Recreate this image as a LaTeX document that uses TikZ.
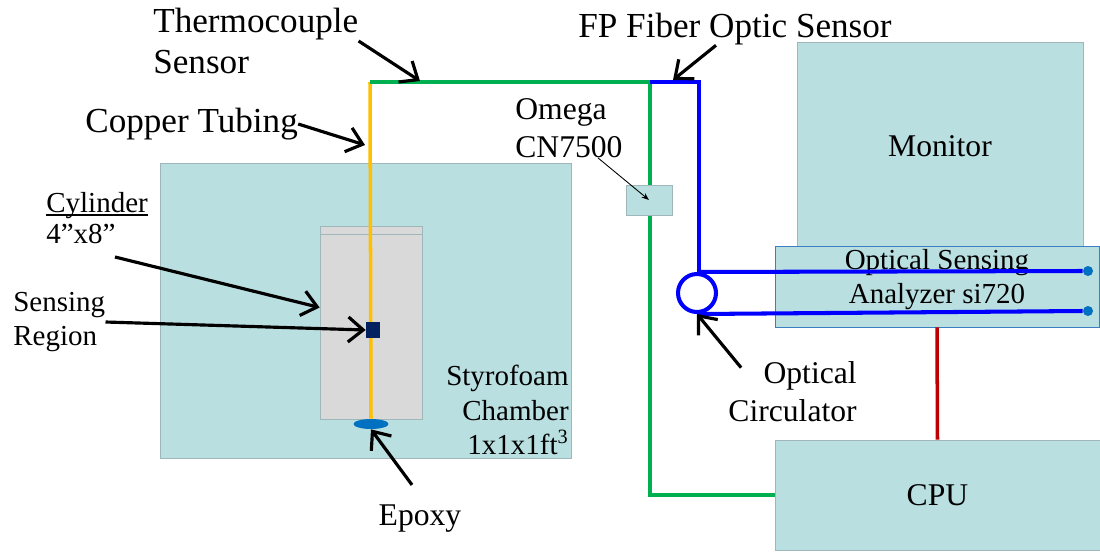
\documentclass[tikz,border=0pt]{standalone}
\usepackage{fontspec}
\setmainfont{LiberationSerif}[Extension=.ttf, UprightFont=*-Regular, BoldFont=*-Bold, ItalicFont=*-Italic, BoldItalicFont=*-BoldItalic]
\usetikzlibrary{arrows.meta, positioning, shapes.geometric, calc}
\definecolor{foam}{HTML}{B9DFE1}
\definecolor{foamedge}{HTML}{9FB6BA}
\definecolor{cylfill}{HTML}{D9D9D9}
\definecolor{tcgreen}{HTML}{00B050}
\definecolor{tubeorange}{HTML}{FFC000}
\definecolor{fiberblue}{HTML}{0000FF}
\definecolor{wirered}{HTML}{C00000}
\definecolor{sensnavy}{HTML}{002060}
\definecolor{epoxyblue}{HTML}{0070C0}
\definecolor{edgeblue}{HTML}{3C7FC0}

\begin{document}
\begin{tikzpicture}[
        x=0.02cm, y=-0.02cm,
        every node/.style={inner sep=0pt},
        bigtext/.style={font=\rmfamily\fontsize{20}{23.5}\selectfont},
        midtext/.style={font=\rmfamily\fontsize{18}{21.5}\selectfont},
        smalltext/.style={font=\rmfamily\fontsize{16.5}{19.5}\selectfont},
        box/.style={draw=foamedge, fill=foam, midtext, align=center},
        tube/.style={line width=2pt, tubeorange},
        tcwire/.style={line width=2pt, tcgreen},
        fiber/.style={line width=2.3pt, fiberblue},
        wire/.style={line width=2pt, wirered},
        pointer/.style={-{Straight Barb[length=3mm, width=5mm]}, line width=1.8pt, black},
        thinpointer/.style={-{Stealth[length=1.5mm]}, line width=0.5pt, black}
    ]
        \useasboundingbox (0,0) rectangle (1100,552);

        % chamber and cylinder
        \node[box, minimum width=8.22cm, minimum height=5.9cm] (chamber) at (365.5,310.5) {};
        \node[draw=foamedge, fill=cylfill, minimum width=2.04cm, minimum height=3.86cm] (cylinder) at (371,322.5) {};
        \draw[foamedge] (cylinder.north west) ++(0,9) coordinate (capline) -- (capline -| cylinder.east);
        \node[ellipse, fill=epoxyblue, minimum width=0.7cm, minimum height=0.2cm] (epoxy) at (371,424) {};
        \coordinate (tctop) at (370,82);
        \draw[tube] (tctop) -- (epoxy.north);
        \node[fill=sensnavy, minimum width=0.28cm, minimum height=0.32cm] (sensor) at (373,330) {};

        % thermocouple wire to the CPU
        \coordinate (tcbend) at (650,82);
        \coordinate (fobend) at (699,82);
        \node[box, minimum width=6.5cm, minimum height=2.2cm] (cpu) at (937.5,495) {CPU};
        \draw[tcwire] (tctop) -- (tcbend) |- (cpu.west);
        \node[box, minimum width=0.92cm, minimum height=0.6cm] (omega) at (649,200) {};

        % monitor and analyzer
        \node[box, minimum width=5.72cm, minimum height=4.16cm] (monitor) at (940,146) {Monitor};
        \node[box, draw=edgeblue, minimum width=6.48cm, minimum height=1.62cm] (analyzer) at (937,286.5) {};
        \node[smalltext, align=center] (anlabel) at ([yshift=0.14cm]analyzer.center) {Optical Sensing\\Analyzer si720};
        \draw[wire] (analyzer.south) -- (cpu.north);

        % circulator and fibers
        \node[circle, draw=fiberblue, line width=2.3pt, minimum size=0.76cm] (circ) at (697,293) {};
        \node[circle, fill=epoxyblue, minimum size=0.2cm] (dottop) at (1088,271) {};
        \node[circle, fill=epoxyblue, minimum size=0.2cm] (dotbot) at (1088,311) {};
        \draw[fiber] (tcbend) -- (fobend) -- (fobend |- circ.north);
        \draw[fiber] (circ.north) -- (dottop.west);
        \draw[fiber] (circ.south) -- (dotbot.west);

        % labels
        \node[bigtext, align=left, anchor=west] (tclabel) at (153,41) {Thermocouple\\Sensor};
        \node[bigtext, anchor=west] (culabel) at (85,124) {Copper Tubing};
        \node[bigtext, anchor=west] (fplabel) at (578,29) {FP Fiber Optic Sensor};
        \node[midtext, align=left, anchor=west] (omegalabel) at (515,128) {Omega\\CN7500};
        \node[smalltext, anchor=base west] (cylword) at (46,212) {Cylinder};
        \node[smalltext, anchor=base west] (cylsize) at (46,243) {4”x8”};
        \draw[line width=0.6pt] ([yshift=-0.06cm]cylword.base west) -- ([yshift=-0.06cm]cylword.base east);
        \node[smalltext, align=left, anchor=west] (senslabel) at (13,322) {Sensing\\Region};
        \node[smalltext, align=right, anchor=east] (foamlabel) at (569,410) {Styrofoam\\Chamber\\1x1x1ft\textsuperscript{3}};
        \node[midtext] (epoxylabel) at (420,519) {Epoxy};
        \node[midtext, align=right, anchor=east] (circlabel) at (857,392) {Optical\\Circulator};

        % pointers
        \coordinate (tcpoint) at (420,81);
        \coordinate (fopoint) at (673,80);
        \coordinate (cupoint) at (365,145);
        \draw[pointer] (tclabel.east) -- (tcpoint);
        \draw[pointer] ([xshift=-0.38cm]fplabel.south) -- (fopoint);
        \draw[pointer] (culabel.east) -- (cupoint);
        \draw[thinpointer] ([xshift=0.58cm]omegalabel.south) -- (omega.center);
        \draw[pointer] ([shift={(1.38cm,-0.28cm)}]cylsize.base west) -- ([yshift=0.3cm]cylinder.west);
        \draw[pointer] (senslabel.east) -- (sensor.west);
        \draw[pointer] ([shift={(-0.16cm,0.4cm)}]epoxylabel.north) -- (epoxy.south);
        \draw[pointer] ([shift={(0.26cm,-0.12cm)}]circlabel.north west) -- (circ.south);
\end{tikzpicture}
\end{document}
